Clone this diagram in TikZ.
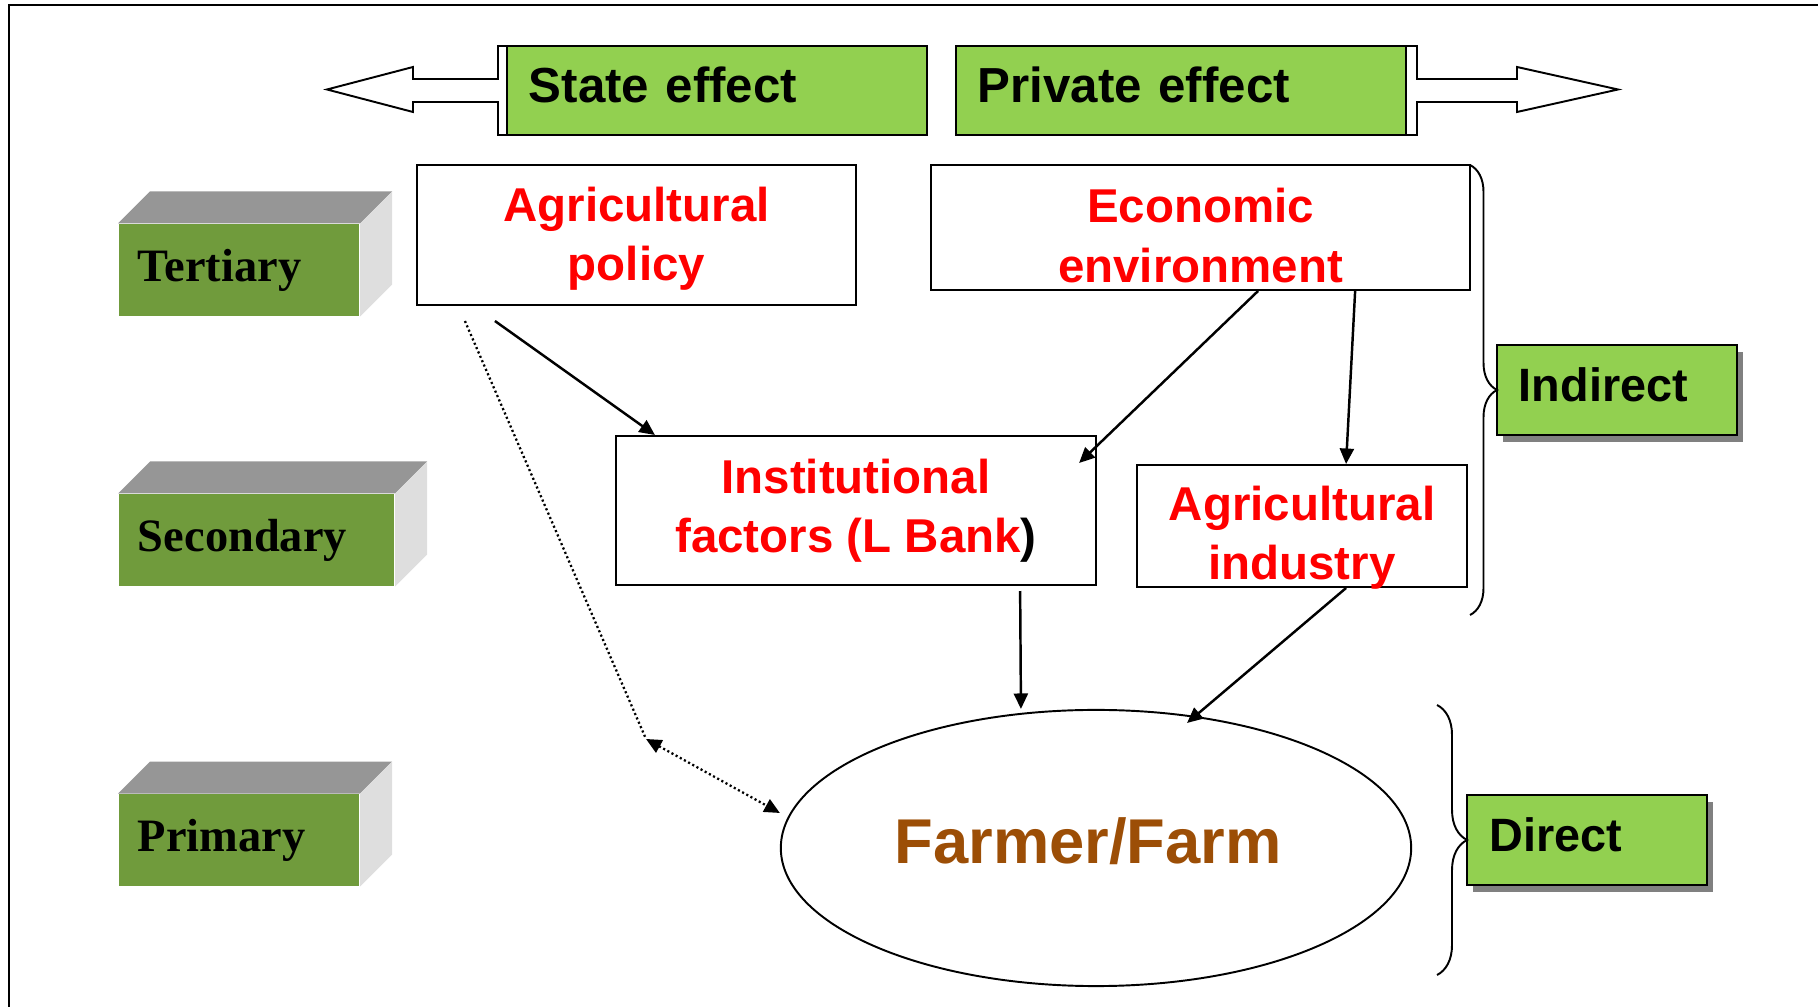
\documentclass[tikz,border=0pt]{standalone}
\usepackage{fontspec}
\setmainfont{Liberation Sans}
\newfontfamily\lvlfont{Liberation Serif}
\usetikzlibrary{arrows.meta,shapes.geometric,shadows,decorations.pathreplacing}
\definecolor{effgreen}{RGB}{146,208,80}
\definecolor{lvlgreen}{RGB}{112,155,60}
\definecolor{topgray}{RGB}{150,150,150}
\definecolor{sidegray}{RGB}{222,222,222}
\definecolor{farmbrown}{RGB}{156,78,6}

\begin{document}
\begin{tikzpicture}[x=0.01cm,y=-0.01cm,line width=0.55pt,>={Triangle[length=4.4pt,width=4pt]},
    effbox/.style={draw,fill=effgreen,minimum height=0.89cm,inner xsep=0.22cm,align=left,font=\fontsize{14}{16}\selectfont\bfseries},
    shadowbox/.style={effbox,minimum height=0.9cm,font=\fontsize{13.3}{16}\selectfont\bfseries,drop shadow={shadow xshift=0.06cm,shadow yshift=-0.07cm,fill=black!50,opacity=1}},
    redbox/.style={draw,fill=white},
    redtext/.style={align=center,text=red,font=\fontsize{13.5}{16.8}\selectfont\bfseries},
    lvlbox/.style={fill=lvlgreen,anchor=west,minimum height=0.91cm,inner xsep=0.19cm,align=left,font=\fontsize{13.2}{15.5}\lvlfont\bfseries},
    link/.style={->,line width=0.7pt},
    dotline/.style={line width=0.65pt,dash pattern=on 0.6pt off 0.75pt},
    curly/.style={decorate,decoration={brace,amplitude=#1}}]
    \useasboundingbox (0,0) rectangle (1818,1007);
    \draw[line width=0.7pt] (9,1007) -- (9,5) -- (1818,5);

    % levels
    \foreach[count=\x] \t/\y/\w in {Tertiary/270/2.02,Secondary/540/2.37,Primary/840/2.02}{
        \node[lvlbox,text width=\w cm] (lvl\x) at (118,\y) {\t};
        \fill[topgray] (lvl\x.north west) -- ++(32,-32) -- ([shift={(32,-32)}]lvl\x.north east) -- (lvl\x.north east) -- cycle;
        \fill[sidegray] (lvl\x.north east) -- ++(32,-32) -- ([shift={(32,-32)}]lvl\x.south east) -- (lvl\x.south east) -- cycle;
    }

    % block arrows
    \draw[fill=white] (927,46) -- (498,46) -- (498,79) -- (413,79) -- (413,67) -- (327,89.5) -- (413,112) -- (413,102) -- (498,102) -- (498,135) -- (927,135) -- cycle;
    \draw[fill=white] (956,46) -- (1417,46) -- (1417,79) -- (1517,79) -- (1517,67) -- (1618,89.5) -- (1517,112) -- (1517,102) -- (1417,102) -- (1417,135) -- (956,135) -- cycle;
    \node[effbox,text width=3.76cm,text depth=0.12cm] (state) at (717,90.5) {State effect};
    \node[effbox,text width=4.06cm,text depth=0.12cm] (priv) at (1181,90.5) {Private effect};

    \node[redbox,minimum width=4.39cm,minimum height=1.4cm] (pol) at (636.5,235) {};
    \node[redtext] (poltxt) at ([yshift=-0.04cm]pol.center) {Agricultural\\policy};
    \node[redbox,minimum width=5.39cm,minimum height=1.25cm] (env) at (1200.5,227.5) {};
    \node[redtext] (envtxt) at ([yshift=-0.08cm]env.center) {Economic\\environment};
    \node[redbox,minimum width=4.8cm,minimum height=1.49cm] (inst) at (856,510.5) {};
    \node[redtext] (insttxt) at (inst.center) {Institutional\\factors (L Bank\textcolor{black}{)}};
    \node[redbox,minimum width=3.3cm,minimum height=1.22cm] (ind) at (1302,526) {};
    \node[redtext] (indtxt) at ([yshift=-0.12cm]ind.center) {Agricultural\\industry};
    \node[draw,ellipse,minimum width=6.3cm,minimum height=2.76cm,inner sep=0] (farm) at (1096,848) {};
    \node[text=farmbrown,font=\fontsize{18}{20}\selectfont\bfseries] (farmtxt) at ([xshift=-0.08cm,yshift=0.07cm]farm.center) {Farmer/Farm};

    \node[shadowbox,text width=1.96cm,text depth=0.1cm] (indir) at (1617,390) {Indirect};
    \node[shadowbox,text width=1.95cm,text depth=0.1cm] (dir) at (1587,840) {Direct};
    \draw[curly=0.27cm] (1470,165) -- (1470,615);
    \draw[curly=0.30cm] (1437,705) -- (1437,975);

    % influences
    \coordinate (bend) at (646,739);
    \draw[link] ([xshift=0.79cm,yshift=-0.15cm]pol.south west) -- ([xshift=0.40cm]inst.north west);
    \draw[dotline] ([xshift=0.49cm,yshift=-0.15cm]pol.south west) -- (bend);
    \draw[dotline,<->] (bend) -- ([yshift=0.35cm]farm.west);
    \draw[link] ([xshift=3.28cm]env.south west) -- ([xshift=-0.18cm,yshift=-0.28cm]inst.north east);
    \draw[link] ([xshift=4.25cm]env.south west) -- ([xshift=2.10cm]ind.north west);
    \draw[link] ([xshift=4.05cm,yshift=-0.05cm]inst.south west) -- ([xshift=-0.75cm]farm.north);
    \draw[link] ([xshift=2.10cm]ind.south west) -- ([xshift=0.91cm,yshift=-0.14cm]farm.north);
\end{tikzpicture}
\end{document}
